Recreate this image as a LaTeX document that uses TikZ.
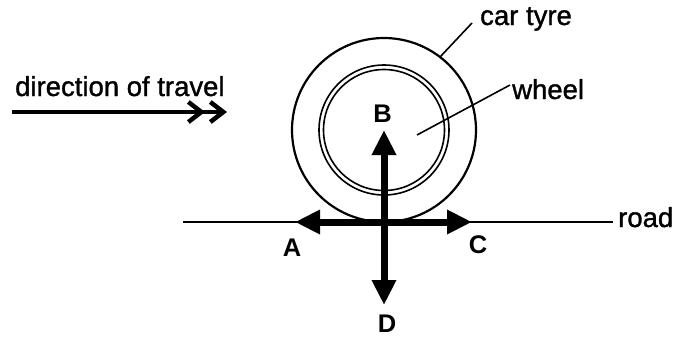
\documentclass[tikz,border=0pt]{standalone}
\usepackage{fontspec}
\setmainfont{Liberation Sans}
\newfontfamily\scanfont{Liberation Sans}[FakeBold=1.2]
\usetikzlibrary{arrows.meta}
\tikzset{
  txt/.style={inner sep=0pt, anchor=base west, font=\scanfont\fontsize{27.5}{30}\selectfont},
  lbl/.style={inner sep=0pt, anchor=base, font=\fontsize{25.5}{28}\selectfont\bfseries},
  force/.style={line width=7pt, -{Triangle[length=25pt,width=23pt]}},
  leader/.style={line width=1.6pt},
  chev/.style={line width=4.5pt, -{Straight Barb[length=13pt,width=20pt,line width=4.5pt,sep=3pt] Straight Barb[length=13pt,width=20pt,line width=4.5pt]}},
}
\begin{document}
\begin{tikzpicture}[x=1pt,y=-1pt]
\useasboundingbox (0,0) rectangle (675,338);
% tyre and wheel
\coordinate (c) at (384,130);
\draw[line width=2.2pt] (c) circle[radius=92];
\draw[line width=1.6pt] (c) circle[radius=65];
\draw[line width=1.6pt] (c) circle[radius=60.5];
% road
\coordinate (roadL) at (183,222);
\coordinate (roadR) at (613,222);
\draw[line width=2pt] (roadL) -- (roadR);
\node[txt] (road) at (618,227) {road};
% forces
\coordinate (o) at (384,222);
\coordinate (tA) at (295,222);
\coordinate (tC) at (472,222);
\coordinate (tB) at (384,130);
\coordinate (tD) at (384,305);
\draw[force] (o) -- (tA);
\draw[force] (o) -- (tC);
\draw[force] (o) -- (tB);
\draw[force] (o) -- (tD);
\node[lbl] (A) at (292,256) {A};
\node[lbl] (B) at (382.5,122) {B};
\node[lbl] (C) at (478,253) {C};
\node[lbl] (D) at (387,332) {D};
% labels with leaders
\node[txt] (tyre) at (480,25) {car tyre};
\coordinate (tyreEnd) at (472,23);
\coordinate (tyrePt) at (440,57);
\draw[leader] (tyreEnd) -- (tyrePt);
\node[txt] (wheel) at (512,99) {wheel};
\coordinate (wheelEnd) at (510,85);
\coordinate (wheelPt) at (417,135);
\draw[leader] (wheelEnd) -- (wheelPt);
% direction of travel
\node[txt] (dir) at (15,96) {direction of travel};
\coordinate (travS) at (12,112);
\coordinate (travE) at (227,112);
\draw[chev] (travS) -- (travE);
\end{tikzpicture}
\end{document}
